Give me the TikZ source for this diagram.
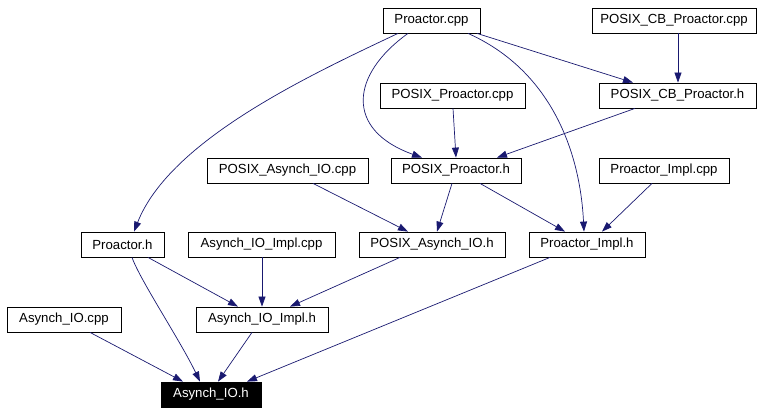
\documentclass[tikz,border=0pt]{standalone}
\usepackage{fontspec}
\setmainfont{Liberation Sans}
\usetikzlibrary{arrows.meta,positioning}
\definecolor{edgeblue}{RGB}{25,25,112}

\tikzset{
  file/.style={draw, line width=0.8pt, minimum height=25pt, inner sep=0pt,
    font=\fontsize{13.2}{15}\selectfont},
  main/.style={file, fill=black, text=white},
  dep/.style={draw=edgeblue, line width=0.7pt,
    -{Triangle[length=10pt,width=7pt,fill=edgeblue]}}
}

\begin{document}
\begin{tikzpicture}[x=1pt,y=-1pt]
\useasboundingbox (0,0) rectangle (769,413);
% top rows
\node [file, minimum width=97pt] (pcpp) at (431.5,20.5) {Proactor.cpp};
\node [file, minimum width=164pt] (cbcpp) at (674,20.5) {POSIX\_CB\_Proactor.cpp};
\node [file, minimum width=157pt] (cbh) at (677.5,95.5) {POSIX\_CB\_Proactor.h};
\node [file, minimum width=145pt] (ppcpp) at (452.5,95.5) {POSIX\_Proactor.cpp};
\node [file, minimum width=130pt] (pph) at (456,170.5) {POSIX\_Proactor.h};
\node [file, minimum width=161pt] (paiocpp) at (287.5,170.5) {POSIX\_Asynch\_IO.cpp};
\node [file, minimum width=130pt] (picpp) at (664,170.5) {Proactor\_Impl.cpp};
% lower rows
\node [file, minimum width=83pt] (ph) at (122.5,244.5) {Proactor.h};
\node [file, minimum width=147pt] (aiicpp) at (261.5,244.5) {Asynch\_IO\_Impl.cpp};
\node [file, minimum width=146pt] (paioh) at (432,244.5) {POSIX\_Asynch\_IO.h};
\node [file, minimum width=116pt] (pih) at (587,244.5) {Proactor\_Impl.h};
\node [file, minimum width=114pt] (aiocpp) at (64,319.5) {Asynch\_IO.cpp};
\node [file, minimum width=132pt] (aiih) at (262,319.5) {Asynch\_IO\_Impl.h};
\node [main, minimum width=100pt] (aioh) at (211,394.5) {Asynch\_IO.h};

% includes of Proactor.cpp
\draw [dep] ([xshift=-33.5pt]pcpp.south) .. controls (310,75) and (170,140) .. ([xshift=11.5pt]ph.north);
\draw [dep] ([xshift=-23.5pt]pcpp.south) .. controls (350,75) and (345,130) .. ([xshift=-34pt]pph.north);
\draw [dep] ([xshift=36.5pt]pcpp.south) .. controls (550,70) and (580,150) .. ([xshift=-3pt]pih.north);
\draw [dep] ([xshift=45.5pt]pcpp.south) -- ([xshift=-44.5pt]cbh.north);

\draw [dep] ([xshift=4pt]cbcpp.south) -- ([xshift=0.5pt]cbh.north);
\draw [dep] ([xshift=0.5pt]ppcpp.south) -- (pph.north);
\draw [dep] ([xshift=-42.5pt]cbh.south) -- ([xshift=41pt]pph.north);
\draw [dep] ([xshift=25.5pt]paiocpp.south) -- ([xshift=-24pt]paioh.north);
\draw [dep] ([xshift=-4pt]pph.south) -- ([xshift=5pt]paioh.north);
\draw [dep] ([xshift=24pt]pph.south) -- ([xshift=-22pt]pih.north);
\draw [dep] ([xshift=-12pt]picpp.south) -- ([xshift=15pt]pih.north);

\draw [dep] ([xshift=25.5pt]ph.south) -- ([xshift=-24pt]aiih.north);
\draw [dep] ([xshift=9.5pt]ph.south) .. controls (140,280) and (180,340) .. ([xshift=-11pt]aioh.north);
\draw [dep] ([xshift=0.5pt]aiicpp.south) -- (aiih.north);
\draw [dep] ([xshift=-32pt]paioh.south) -- ([xshift=28pt]aiih.north);
\draw [dep] ([xshift=-37pt]pih.south) -- ([xshift=36pt]aioh.north);
\draw [dep] ([xshift=26pt]aiocpp.south) -- ([xshift=-28pt]aioh.north);
\draw [dep] ([xshift=-10pt]aiih.south) -- ([xshift=7pt]aioh.north);
\end{tikzpicture}
\end{document}
